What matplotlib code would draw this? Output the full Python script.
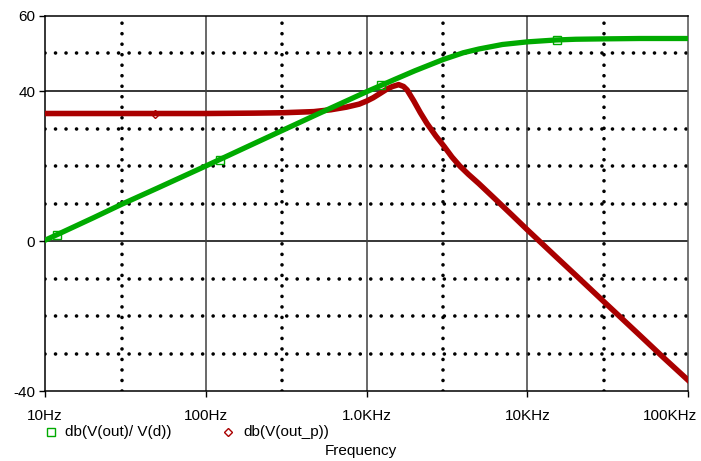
import numpy as np
import matplotlib
matplotlib.use("Agg")
import matplotlib.pyplot as plt
from matplotlib.lines import Line2D
import matplotlib.transforms as mtransforms

plt.rcParams['font.family'] = ['Liberation Sans', 'DejaVu Sans']

# gain traces (Hz, dB)
freq_gain = [10, 20, 30, 50, 100, 200, 300, 500, 1000, 1500, 2000, 3000,
             4000, 5000, 7000, 10000, 15000, 20000, 30000, 50000, 100000]
db_gain = [0.2, 6.2, 9.8, 14.1, 20.0, 26.0, 29.5, 33.9, 39.8, 43.1, 45.4, 48.4,
           50.2, 51.2, 52.4, 53.1, 53.6, 53.8, 53.9, 54.0, 54.0]

freq_outp = [10, 50, 100, 200, 300, 470, 600, 750, 900, 1000, 1100, 1220, 1350,
             1450, 1585, 1700, 1787, 1965, 2163, 2381, 2700, 3042, 3400, 3805,
             4300, 5000, 6347, 8000, 10000, 15000, 20000, 30000, 50000, 70000, 100000]
db_outp = [34.0, 34.0, 34.0, 34.1, 34.2, 34.5, 35.0, 35.7, 36.5, 37.3, 38.2, 39.4, 40.6,
           41.2, 41.7, 41.2, 40.3, 37.4, 34.2, 31.3, 28.0, 25.2, 22.4, 20.0,
           17.8, 15.3, 11.1, 7.0, 3.0, -4.1, -9.1, -16.2, -25.1, -31.0, -37.1]

# trace symbol positions
gain_marks = [11.9, 122, 1237, 15400]
outp_marks = [48]

legend_labels = ['db(V(out)/ V(d))', 'db(V(out_p))']
xtick_vals = [10, 100, 1000, 10000, 100000]
xtick_text = ['10Hz', '100Hz', '1.0KHz', '10KHz', '100KHz']
ytick_vals = [60, 40, 0, -40]

green = '#00aa00'
red = '#aa0000'

fig = plt.figure(figsize=(7.01, 4.61), dpi=100)
ax = fig.add_axes([0.0642, 0.1518, 0.9173, 0.8135])
ax.set_xscale('log')
ax.set_xlim(10, 1e5)
ax.set_ylim(-40, 60)

# dotted grid
dot = dict(color='black', lw=2.6, linestyle=(0, (0.01, 2.9)),
           dash_capstyle='round', zorder=1)
for y in [50, 30, 20, 10, -10, -20, -30]:
    ax.axhline(y, **dot)
for x in [30, 300, 3000, 30000]:
    ax.axvline(x, **dot)
# solid grid
for y in [40, 0]:
    ax.axhline(y, color='black', lw=1.1, zorder=1)
for x in [100, 1000, 10000]:
    ax.axvline(x, color='#404040', lw=1.1, zorder=1)

ax.plot(freq_outp, db_outp, color=red, lw=4.0, zorder=3)
ax.plot(freq_gain, db_gain, color=green, lw=3.8, zorder=4)
ax.plot(gain_marks, np.interp(np.log10(gain_marks), np.log10(freq_gain), db_gain),
        ls='none', marker='s', ms=6, mfc='none', mec=green, mew=1.0, zorder=5)
ax.plot(outp_marks, np.interp(np.log10(outp_marks), np.log10(freq_outp), db_outp),
        ls='none', marker='D', ms=4.5, mfc='none', mec=red, mew=1.0, zorder=5)

ax.set_xticks(xtick_vals)
ax.set_xticklabels(xtick_text)
ax.xaxis.set_minor_locator(matplotlib.ticker.NullLocator())
ax.set_yticks(ytick_vals)
ax.set_yticklabels(['60', '40', '0', '-40'])
ax.tick_params(axis='both', direction='out', length=4, width=1, labelsize=11,
               colors='black')
ax.tick_params(axis='x', pad=9)
ax.tick_params(axis='y', pad=3)

# keep the last frequency label inside the figure
last = ax.get_xticklabels()[-1]
last.set_horizontalalignment('right')
last.set_transform(last.get_transform() +
                   mtransforms.ScaledTranslation(0.09, 0, fig.dpi_scale_trans))

for side in ['left', 'bottom', 'top']:
    ax.spines[side].set_color('black')
ax.spines['right'].set_color('#505050')
for s in ax.spines.values():
    s.set_linewidth(1.1)

# legend under the plot
fig.add_artist(Line2D([51 / 701], [1 - 432 / 461], marker='s', ms=6, mfc='none',
                      mec=green, mew=1.0, transform=fig.transFigure))
fig.text(65 / 701, 1 - 432 / 461, legend_labels[0], fontsize=11, va='center')
fig.add_artist(Line2D([228 / 701], [1 - 432 / 461], marker='D', ms=4.5, mfc='none',
                      mec=red, mew=1.0, transform=fig.transFigure))
fig.text(243 / 701, 1 - 432 / 461, legend_labels[1], fontsize=11, va='center')
fig.text(325 / 701, 1 - 451 / 461, 'Frequency', fontsize=11, va='center')

fig.savefig('out.png', dpi=100)
